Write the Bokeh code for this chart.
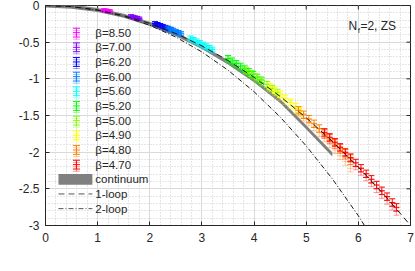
import math
from bokeh.plotting import figure
from bokeh.models import Range1d, FixedTicker, Label
from bokeh.core.properties import value
from bokeh.embed import file_html
from bokeh.resources import INLINE

# ---------------- data ----------------
beta_labels = ["8.50", "7.00", "6.20", "6.00", "5.60", "5.20", "5.00", "4.90", "4.80", "4.70"]
beta_colors = ["#ff00ff", "#8000ff", "#0000ff", "#0080ff", "#00ffff",
               "#00ff00", "#80ff00", "#ffff00", "#ff8000", "#ff0000"]

g_850 = [1.12, 1.15, 1.18, 1.21, 1.24]
y_850_a = [-0.062, -0.066, -0.070, -0.074, -0.078]
y_850_b = [-0.072, -0.076, -0.080, -0.084, -0.088]
e_850 = 0.018

g_700 = [1.64, 1.68, 1.72, 1.76, 1.80]
y_700_a = [-0.145, -0.153, -0.161, -0.169, -0.178]
y_700_b = [-0.155, -0.163, -0.171, -0.180, -0.189]
e_700 = 0.02

g_620 = [2.10, 2.15, 2.20, 2.25, 2.30, 2.35, 2.40]
y_620_a = [-0.245, -0.257, -0.270, -0.283, -0.296, -0.310, -0.324]
y_620_b = [-0.257, -0.269, -0.282, -0.295, -0.308, -0.322, -0.336]
e_620 = 0.025

g_600 = [2.35, 2.40, 2.45, 2.50, 2.55, 2.60]
y_600_a = [-0.310, -0.324, -0.339, -0.354, -0.369, -0.385]
y_600_b = [-0.322, -0.337, -0.352, -0.367, -0.382, -0.398]
e_600 = 0.028

g_560 = [2.78, 2.84, 2.90, 2.96, 3.02, 3.08, 3.14, 3.20]
y_560_a = [-0.448, -0.468, -0.489, -0.510, -0.532, -0.554, -0.577, -0.600]
y_560_b = [-0.463, -0.483, -0.504, -0.526, -0.548, -0.570, -0.593, -0.617]
e_560 = 0.032

g_520 = [3.50, 3.58, 3.66, 3.74, 3.82, 3.90, 3.98, 4.06, 4.14]
y_520_a = [-0.722, -0.756, -0.791, -0.827, -0.863, -0.900, -0.938, -0.977, -1.016]
y_520_b = [-0.740, -0.776, -0.812, -0.850, -0.888, -0.928, -0.968, -1.010, -1.052]
e_520 = 0.04

g_500 = [3.85, 3.95, 4.05, 4.15, 4.25, 4.35, 4.45]
y_500_a = [-0.880, -0.927, -0.975, -1.025, -1.076, -1.128, -1.182]
y_500_b = [-0.905, -0.955, -1.005, -1.057, -1.110, -1.165, -1.222]
e_500 = 0.04

g_490 = [4.30, 4.40, 4.50, 4.60, 4.70, 4.80, 4.88]
y_490_a = [-1.105, -1.157, -1.211, -1.266, -1.322, -1.380, -1.427]
y_490_b = [-1.132, -1.187, -1.244, -1.302, -1.362, -1.423, -1.473]
e_490 = 0.045

g_480 = [4.85, 4.95, 5.05, 5.15, 5.25, 5.35, 5.45, 5.55, 5.65, 5.75, 5.85]
y_480_a = [-1.430, -1.490, -1.550, -1.613, -1.677, -1.742, -1.808, -1.876, -1.945, -2.015, -2.086]
y_480_b = [-1.460, -1.525, -1.590, -1.660, -1.735, -1.810, -1.890, -1.970, -2.050, -2.130, -2.220]
e_480 = 0.05

g_470 = [5.35, 5.45, 5.55, 5.65, 5.75, 5.85, 5.95, 6.05, 6.15, 6.25, 6.35, 6.45, 6.55, 6.65, 6.73]
y_470_a = [-1.730, -1.798, -1.865, -1.934, -2.003, -2.074, -2.147, -2.220, -2.295, -2.370,
           -2.448, -2.526, -2.606, -2.686, -2.752]
y_470_b = [-1.760, -1.830, -1.900, -1.970, -2.045, -2.120, -2.190, -2.265, -2.340, -2.420,
           -2.500, -2.580, -2.660, -2.740, -2.810]
e_470 = 0.05

cont_g = [0.0, 0.5, 1.0, 1.5, 2.0, 2.5, 3.0, 3.5, 4.0, 4.5, 5.0, 5.5]
cont_y = [0.0, -0.016, -0.062, -0.140, -0.250, -0.392, -0.566, -0.775, -1.020, -1.300, -1.660, -2.030]
cont_half = 0.028

loop_g = [0.0, 0.5, 1.0, 1.5, 2.0, 2.5, 3.0, 3.5, 4.0, 4.5, 5.0, 5.5, 6.0, 6.5, 7.0]
one_loop = [0.0, -0.0153, -0.0612, -0.1377, -0.2448, -0.3825, -0.5508, -0.7497, -0.9792,
            -1.2393, -1.53, -1.8513, -2.2032, -2.5857, -2.9988]
two_loop = [0.0, -0.0157, -0.0643, -0.1481, -0.2694, -0.4305, -0.6338, -0.8815, -1.176,
            -1.5195, -1.9144, -2.3629, -2.8674, -3.4302, -4.10]

x_ticks = [0, 1, 2, 3, 4, 5, 6, 7]
y_ticks = [-3, -2.5, -2, -1.5, -1, -0.5, 0]
y_tick_labels = ["-3", "-2.5", "-2", "-1.5", "-1", "-0.5", "0"]

series = [
    (g_850, y_850_a, y_850_b, e_850),
    (g_700, y_700_a, y_700_b, e_700),
    (g_620, y_620_a, y_620_b, e_620),
    (g_600, y_600_a, y_600_b, e_600),
    (g_560, y_560_a, y_560_b, e_560),
    (g_520, y_520_a, y_520_b, e_520),
    (g_500, y_500_a, y_500_b, e_500),
    (g_490, y_490_a, y_490_b, e_490),
    (g_480, y_480_a, y_480_b, e_480),
    (g_470, y_470_a, y_470_b, e_470),
]

# ---------------- figure ----------------
FONT = "Liberation Sans"
TXT = "#262626"

p = figure(width=415, height=271, output_backend="svg", toolbar_location=None,
           x_range=Range1d(0, 7), y_range=Range1d(-3, 0),
           min_border_left=45, min_border_right=5, min_border_top=5, min_border_bottom=46)
p.background_fill_color = "white"
p.border_fill_color = "white"
p.outline_line_color = TXT

minor_x = [i * 0.2 for i in range(36)]
minor_y = [-3 + i * 0.1 for i in range(31)]
xt = FixedTicker(ticks=x_ticks, minor_ticks=minor_x)
yt = FixedTicker(ticks=y_ticks, minor_ticks=minor_y)

for ax in p.xaxis + p.yaxis:
    ax.axis_line_color = TXT
    ax.major_tick_in = 4
    ax.major_tick_out = 0
    ax.minor_tick_in = 0
    ax.minor_tick_out = 0
    ax.major_tick_line_color = TXT
    ax.major_label_text_font = FONT
    ax.major_label_text_font_size = "12px"
    ax.major_label_text_color = TXT
p.xaxis.ticker = xt
p.yaxis.ticker = yt
p.xaxis.major_label_standoff = 7
p.yaxis.major_label_standoff = 6
p.yaxis.major_label_overrides = {t: s for t, s in zip(y_ticks, y_tick_labels)}

p.xgrid.ticker = xt
p.ygrid.ticker = yt
for gr in (p.xgrid[0], p.ygrid[0]):
    gr.grid_line_color = "#dadada"
    gr.grid_line_width = 1
    gr.minor_grid_line_color = "#cccccc"
    gr.minor_grid_line_dash = "1 2"

# mirrored tick marks on top and right edges (4 px long, pointing inward)
p.ray(x=x_ticks, y=[0] * len(x_ticks), length=4, length_units="screen",
      angle=-math.pi / 2, line_color=TXT, line_width=1)
p.ray(x=[7] * len(y_ticks), y=y_ticks, length=4, length_units="screen",
      angle=math.pi, line_color=TXT, line_width=1)

# continuum band
p.varea(x=cont_g, y1=[v - cont_half for v in cont_y], y2=[v + cont_half for v in cont_y],
        fill_color="#808080")


def errbars(g, y, e, color, alpha, cap=6):
    lo = [v - e for v in y]
    hi = [v + e for v in y]
    p.segment(x0=g, y0=lo, x1=g, y1=hi, line_color=color, line_alpha=alpha, line_width=1)
    p.scatter(x=g + g + g, y=lo + hi + y, marker="dash", size=cap,
              line_color=color, line_alpha=alpha, line_width=1)


for (g, ya, yb, e), col in zip(series, beta_colors):
    errbars(g, yb, e, col, 0.4)
for (g, ya, yb, e), col in zip(series, beta_colors):
    errbars(g, ya, e, col, 1.0)

# perturbative curves
p.line(loop_g, one_loop, line_color="#1a1a1a", line_width=1, line_dash="6 4")
p.line(loop_g, two_loop, line_color="#1a1a1a", line_width=1, line_dash="5 2 1 2")

# ---------------- legend (drawn in data coordinates) ----------------
leg_x = 0.593
leg_text_x = 0.956
leg_rows = [-0.37 - 0.2 * i for i in range(13)]
for i, (lab, col) in enumerate(zip(beta_labels, beta_colors)):
    yy = leg_rows[i]
    errbars([leg_x], [yy - 0.03], 0.06, col, 0.4, cap=7)
    errbars([leg_x], [yy], 0.06, col, 1.0, cap=7)
    p.text(x=[leg_text_x], y=[yy], text=["β=" + lab], text_font=value(FONT),
           text_font_size="11.5px", text_color=TXT, text_baseline="middle", text_align="left")

p.quad(left=[0.249], right=[0.899], bottom=[leg_rows[10] - 0.073], top=[leg_rows[10] + 0.073],
       fill_color="#808080", line_color=None)
p.line([0.249, 0.899], [leg_rows[11]] * 2, line_color="#555555", line_dash="6 4")
p.line([0.249, 0.899], [leg_rows[12]] * 2, line_color="#555555", line_dash="5 2 1 2")
for i, lab in ((10, "continuum"), (11, "1-loop"), (12, "2-loop")):
    p.text(x=[leg_text_x], y=[leg_rows[i]], text=[lab], text_font=value(FONT),
           text_font_size="11.5px", text_color=TXT, text_baseline="middle", text_align="left")

# N_f = 2, ZS
p.add_layout(Label(x=5.81, y=-0.273, text="N", text_font=FONT, text_font_size="12px",
                   text_color=TXT, text_baseline="alphabetic"))
p.add_layout(Label(x=5.99, y=-0.345, text="f", text_font=FONT, text_font_size="8px",
                   text_color=TXT, text_baseline="alphabetic"))
p.add_layout(Label(x=6.04, y=-0.273, text="=2, ZS", text_font=FONT, text_font_size="12px",
                   text_color=TXT, text_baseline="alphabetic"))

# axis labels
p.add_layout(Label(x=-35, x_units="screen", y=-1.5, text="β", text_font="Liberation Serif",
                   text_font_style="italic", text_font_size="13px", text_color=TXT,
                   angle=math.pi / 2, text_align="center", text_baseline="middle"))
p.add_layout(Label(x=3.287, y=-3.49, text="g", text_font=FONT, text_font_size="13px",
                   text_color=TXT, text_baseline="alphabetic"))
p.add_layout(Label(x=3.459, y=-3.425, text="2", text_font=FONT, text_font_size="9px",
                   text_color=TXT, text_baseline="alphabetic"))
p.add_layout(Label(x=3.459, y=-3.55, text="GF", text_font=FONT, text_font_size="9px",
                   text_color=TXT, text_baseline="alphabetic"))

open("out.html", "w").write(file_html(p, INLINE))
